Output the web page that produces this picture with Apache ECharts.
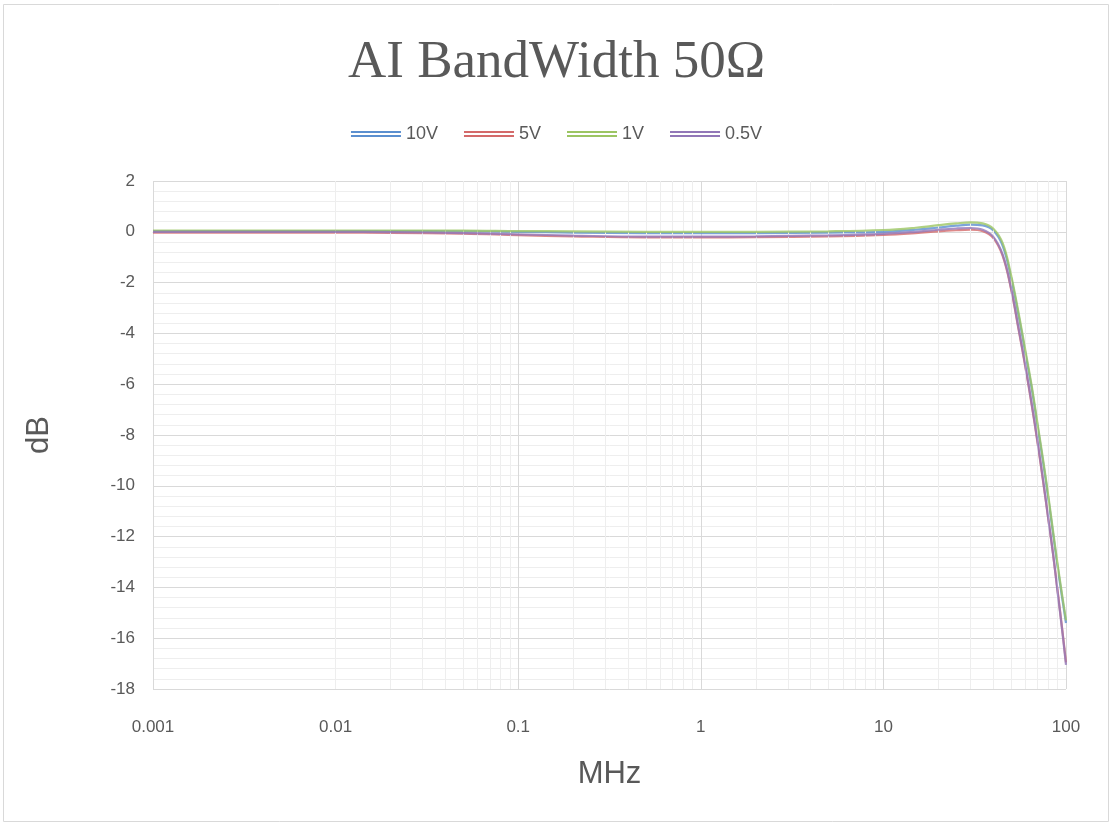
<!DOCTYPE html>
<html><head><meta charset="utf-8">
<script src="https://cdn.jsdelivr.net/npm/echarts@6/dist/echarts.min.js"></script>
<style>html,body{margin:0;padding:0;background:#fff}#c{width:1113px;height:827px}</style>
</head><body><div id="c"></div>
<script>
const freqs = [0.001,0.002,0.005,0.01,0.02,0.05,0.1,0.2,0.5,1,2,5,10,15,20,25,30,35,40,45,50,55,60,65,70,75,80,85,90,95,100];
const v10  = [0.03,0.03,0.03,0.03,0.03,0.02,0.00,-0.03,-0.05,-0.05,-0.05,-0.03,0.00,0.08,0.17,0.24,0.28,0.25,0.05,-0.55,-1.8,-3.3,-4.8,-6.2,-7.7,-9.1,-10.5,-11.9,-13.2,-14.35,-15.4];
const v5   = [-0.03,-0.03,-0.03,-0.03,-0.04,-0.07,-0.13,-0.18,-0.22,-0.22,-0.21,-0.18,-0.12,-0.05,0.02,0.06,0.08,0.02,-0.25,-0.95,-2.25,-3.85,-5.35,-6.85,-8.35,-9.85,-11.3,-12.7,-14.15,-15.55,-16.95];
const v1   = [0.05,0.05,0.05,0.05,0.05,0.05,0.03,0.02,0.00,0.00,0.00,0.02,0.07,0.16,0.26,0.33,0.37,0.33,0.12,-0.45,-1.7,-3.2,-4.7,-6.1,-7.6,-9.0,-10.4,-11.8,-13.1,-14.25,-15.3];
const v05  = [0.00,0.00,0.00,0.00,-0.01,-0.05,-0.10,-0.15,-0.19,-0.19,-0.18,-0.14,-0.08,0.00,0.08,0.13,0.15,0.08,-0.20,-0.90,-2.2,-3.8,-5.3,-6.8,-8.3,-9.8,-11.3,-12.7,-14.2,-15.6,-17.05];
const seriesNames = ['10V','5V','1V','0.5V'];
const xTickLabels = ['0.001','0.01','0.1','1','10','100'];
const minorX = [];
[0.001,0.01,0.1,1,10].forEach(d=>{for(let k=2;k<=9;k++) minorX.push(+(d*k).toPrecision(3));});

const colors = ['#5b8fcf','#d46a6a','#9cc563','#9277b8'];
const icon = 'path://M0,0H50V2H0Z M0,4H50V6H0Z';
const vals = [v10,v5,v1,v05];

const chart = echarts.init(document.getElementById('c'));
const series = seriesNames.map((n,i)=>({
  name:n, type:'line', smooth:0.4, symbol:'none', z:3+i,
  data: freqs.map((f,j)=>[f,vals[i][j]]),
  lineStyle:{color:colors[i], width:2.2, opacity:0.8},
  itemStyle:{color:colors[i]}
}));
series.push({
  type:'line', data:[], silent:true, z:1,
  markLine:{silent:true, symbol:['none','none'], label:{show:false},
    lineStyle:{color:'#eeeeee', type:'solid', width:1},
    data: minorX.map(v=>({xAxis:v}))}
});
chart.setOption({
  animation:false,
  graphic:[{type:'rect', shape:{x:3.5,y:4.5,width:1105,height:817}, style:{fill:'none', stroke:'#d9d9d9', lineWidth:1}, z:-10}],
  title:{text:'AI BandWidth 50Ω', left:'center', top:32,
    textStyle:{fontFamily:'Liberation Serif', fontSize:53, fontWeight:'normal', color:'#595959'}},
  legend:{top:120, left:'center', itemWidth:50, itemHeight:6, itemGap:26,
    icon:icon, textStyle:{fontFamily:'Liberation Sans', fontSize:18, color:'#595959'},
    data:seriesNames},
  grid:{left:153, right:47, top:181, bottom:138, containLabel:false},
  xAxis:{type:'log', logBase:10, min:0.001, max:100,
    name:'MHz', nameLocation:'middle', nameGap:70,
    nameTextStyle:{fontFamily:'Liberation Sans', fontSize:31, color:'#595959'},
    axisLine:{show:true, lineStyle:{color:'#d9d9d9'}}, axisTick:{show:false},
    axisLabel:{fontFamily:'Liberation Sans', fontSize:17, color:'#595959', margin:30,
      formatter:(v)=>{const i=Math.round(Math.log10(v))+3; return xTickLabels[i]!==undefined?xTickLabels[i]:'';}},
    splitLine:{show:true, lineStyle:{color:'#d9d9d9'}}},
  yAxis:{type:'value', min:-18, max:2, interval:2,
    name:'dB', nameLocation:'middle', nameGap:98,
    nameTextStyle:{fontFamily:'Liberation Sans', fontSize:31, color:'#595959'},
    axisLine:{show:false}, axisTick:{show:false},
    axisLabel:{fontFamily:'Liberation Sans', fontSize:17, color:'#595959', margin:18},
    splitLine:{show:true, lineStyle:{color:'#d9d9d9'}},
    minorTick:{show:false, splitNumber:5},
    minorSplitLine:{show:true, lineStyle:{color:'#eeeeee'}}},
  series:series
});
</script></body></html>
